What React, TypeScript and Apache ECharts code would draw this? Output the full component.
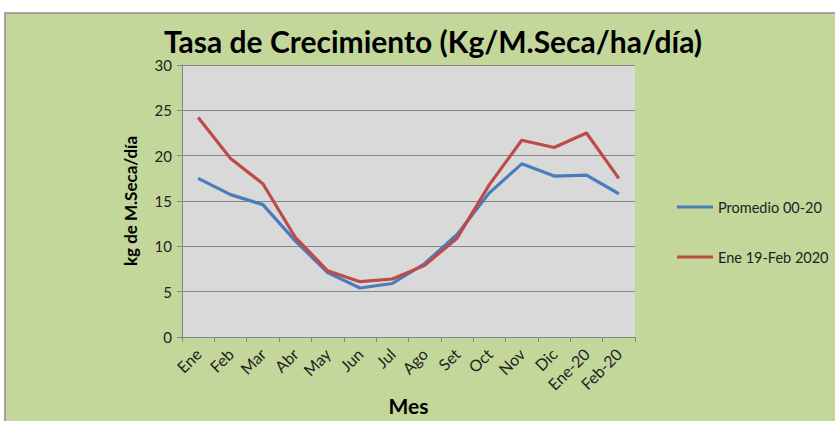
import React, { useEffect, useRef } from "react";
import * as echarts from "echarts";

const months = ["Ene", "Feb", "Mar", "Abr", "May", "Jun", "Jul", "Ago", "Set", "Oct", "Nov", "Dic", "Ene-20", "Feb-20"];
const promedio = [17.5, 15.7, 14.6, 10.6, 7.1, 5.4, 5.9, 8.1, 11.3, 15.9, 19.1, 17.75, 17.85, 15.8];
const ene19feb20 = [24.2, 19.7, 16.9, 11.0, 7.3, 6.1, 6.4, 7.9, 10.9, 16.8, 21.7, 20.9, 22.5, 17.5];
const seriesNames = ["Promedio 00-20", "Ene 19-Feb 2020"];

export default function App() {
  const ref = useRef<HTMLDivElement>(null);
  useEffect(() => {
    document.body.style.margin = "0";
    const chart = echarts.init(ref.current!, null, { renderer: "svg" });
    const font = "Lato, 'Open Sans', sans-serif";
    chart.setOption({
      animation: false,
      backgroundColor: "#ffffff",
      textStyle: { fontFamily: font },
      graphic: [
        {
          type: "rect",
          z: -10,
          silent: true,
          shape: { x: 5, y: 13, width: 840, height: 420 },
          style: { fill: "#c4d79b", stroke: "#8c8c8c", lineWidth: 1.5 },
        },
      ],
      title: {
        text: "Tasa de Crecimiento (Kg/M.Seca/ha/día)",
        left: 428,
        textAlign: "center",
        top: 21,
        textStyle: { fontFamily: font, fontSize: 30, fontWeight: "bold", color: "#000" },
      },
      legend: {
        orient: "vertical",
        left: 672,
        top: 194,
        itemGap: 34,
        itemWidth: 36,
        itemHeight: 3,
        icon: "rect",
        textStyle: { fontFamily: font, fontSize: 14.5, color: "#222", lineHeight: 16 },
        data: seriesNames,
      },
      grid: {
        left: 182, top: 65, width: 453, height: 272,
        outerBoundsMode: "none",
        containLabel: false,
        show: true, backgroundColor: "#d9d9d9", borderWidth: 0,
      },
      xAxis: {
        type: "category",
        data: months,
        boundaryGap: true,
        name: "Mes",
        nameLocation: "middle",
        nameGap: 57,
        nameMoveOverlap: false,
        nameTextStyle: { fontFamily: font, fontSize: 21, fontWeight: "bold", color: "#000", lineHeight: 22 },
        axisLine: { lineStyle: { color: "#868686", width: 1 } },
        axisTick: { show: true, length: 5, alignWithLabel: false, lineStyle: { color: "#868686" } },
        axisLabel: { rotate: 45, interval: 0, fontFamily: font, fontSize: 16, color: "#222", margin: 14 },
      },
      yAxis: {
        type: "value",
        min: 0,
        max: 30,
        interval: 5,
        name: "kg de M.Seca/día",
        nameLocation: "middle",
        nameRotate: 90,
        nameGap: 43,
        nameMoveOverlap: false,
        nameTextStyle: { fontFamily: font, fontSize: 17, fontWeight: "bold", color: "#000" },
        axisLine: { show: true, lineStyle: { color: "#868686", width: 1 } },
        axisTick: { show: true, length: 5, lineStyle: { color: "#868686" } },
        axisLabel: { fontFamily: font, fontSize: 15, color: "#222", margin: 10 },
        splitLine: { show: true, lineStyle: { color: "#868686", width: 1 } },
      },
      series: [
        {
          name: seriesNames[0],
          type: "line",
          data: promedio,
          symbol: "none",
          lineStyle: { color: "#4a7ebb", width: 3.2 },
          itemStyle: { color: "#4a7ebb" },
        },
        {
          name: seriesNames[1],
          type: "line",
          data: ene19feb20,
          symbol: "none",
          lineStyle: { color: "#be4b48", width: 3.2 },
          itemStyle: { color: "#be4b48" },
        },
      ],
    });
    return () => chart.dispose();
  }, []);
  return <div ref={ref} style={{ width: 835, height: 421 }} />;
}
